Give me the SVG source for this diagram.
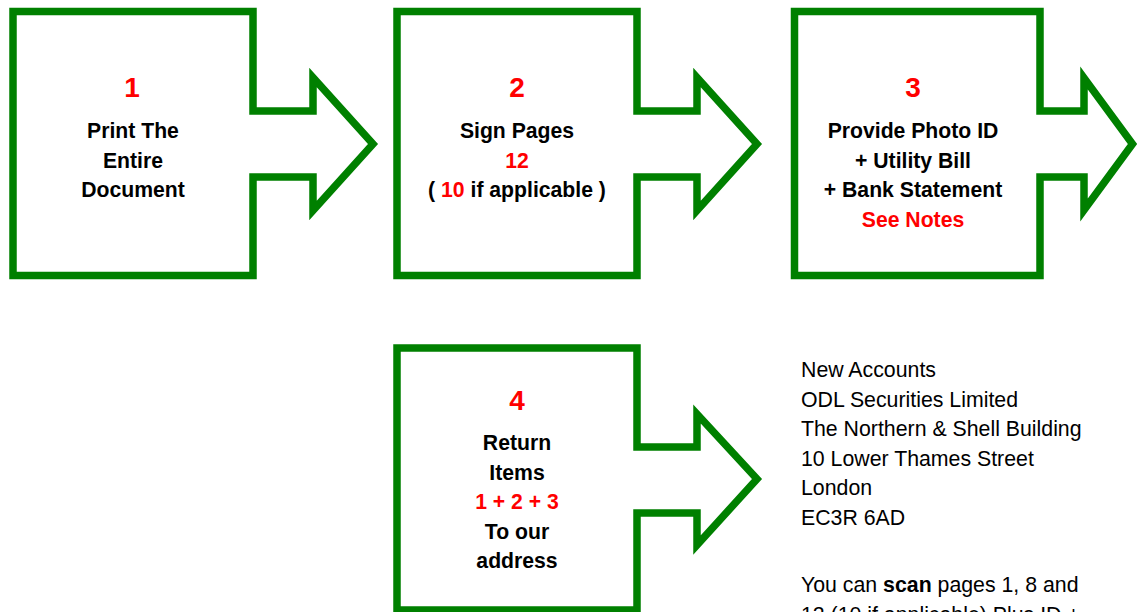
<svg xmlns="http://www.w3.org/2000/svg" width="1138" height="612" viewBox="0 0 1138 612">
<style>
.shape{fill:#fff;stroke:#008000;stroke-width:7.5;stroke-miterlimit:10}
.t{font-family:"Liberation Sans",Arial,sans-serif;font-size:21.2px;font-weight:bold;fill:#000;text-anchor:middle}
.num{font-family:"Liberation Sans",Arial,sans-serif;font-size:28px;font-weight:bold;fill:#ff0000;text-anchor:middle}
.r{fill:#ff0000}
.addr{font-family:"Liberation Sans",Arial,sans-serif;font-size:21.3px;fill:#000}
</style>
<rect width="1138" height="612" fill="#fff"/>
<g id="node1">
<path class="shape" d="M13,11.5 H253 V111 H313 V77.5 L373,144 L313,210.5 V177 H253 V275.5 H13 Z"/>
<text class="num" x="132" y="97">1</text>
<text class="t" x="133" y="138">Print The</text>
<text class="t" x="133" y="167.5">Entire</text>
<text class="t" x="133" y="197">Document</text>
</g>
<g id="node2">
<path class="shape" d="M397,11.5 H637 V111 H697 V77.5 L757,144 L697,210.5 V177 H637 V275.5 H397 Z"/>
<text class="num" x="517" y="97">2</text>
<text class="t" x="517" y="138">Sign Pages</text>
<text class="t r" x="517" y="167.5">12</text>
<text class="t" x="517" y="197">( <tspan class="r">10</tspan> if applicable )</text>
</g>
<g id="node3">
<path class="shape" d="M794.5,11.5 H1040 V111 H1084 V78 L1132.5,144 L1084,210 V177 H1040 V275.5 H794.5 Z"/>
<text class="num" x="913" y="97">3</text>
<text class="t" x="913" y="138">Provide Photo ID</text>
<text class="t" x="913" y="167.5">+ Utility Bill</text>
<text class="t" x="913" y="197">+ Bank Statement</text>
<text class="t r" x="913" y="226.5">See Notes</text>
</g>
<g id="node4">
<path class="shape" d="M397,348 H637 V447 H697 V414 L757,479 L697,545 V513 H637 V610 H397 Z"/>
<text class="num" x="517" y="410">4</text>
<text class="t" x="517" y="450">Return</text>
<text class="t" x="517" y="479.5">Items</text>
<text class="t r" x="517" y="509">1 + 2 + 3</text>
<text class="t" x="517" y="538.5">To our</text>
<text class="t" x="517" y="568">address</text>
</g>
<g id="connectors"></g>
<g id="address">
<text class="addr" x="801" y="377">New Accounts</text>
<text class="addr" x="801" y="406.5">ODL Securities Limited</text>
<text class="addr" x="801" y="436">The Northern &amp; Shell Building</text>
<text class="addr" x="801" y="465.5">10 Lower Thames Street</text>
<text class="addr" x="801" y="495">London</text>
<text class="addr" x="801" y="524.5">EC3R 6AD</text>
<text class="addr" x="801" y="592">You can <tspan font-weight="bold">scan</tspan> pages 1, 8 and</text>
<text class="addr" x="801" y="621.5">12 (10 if applicable) Plus ID +</text>
</g>
</svg>
